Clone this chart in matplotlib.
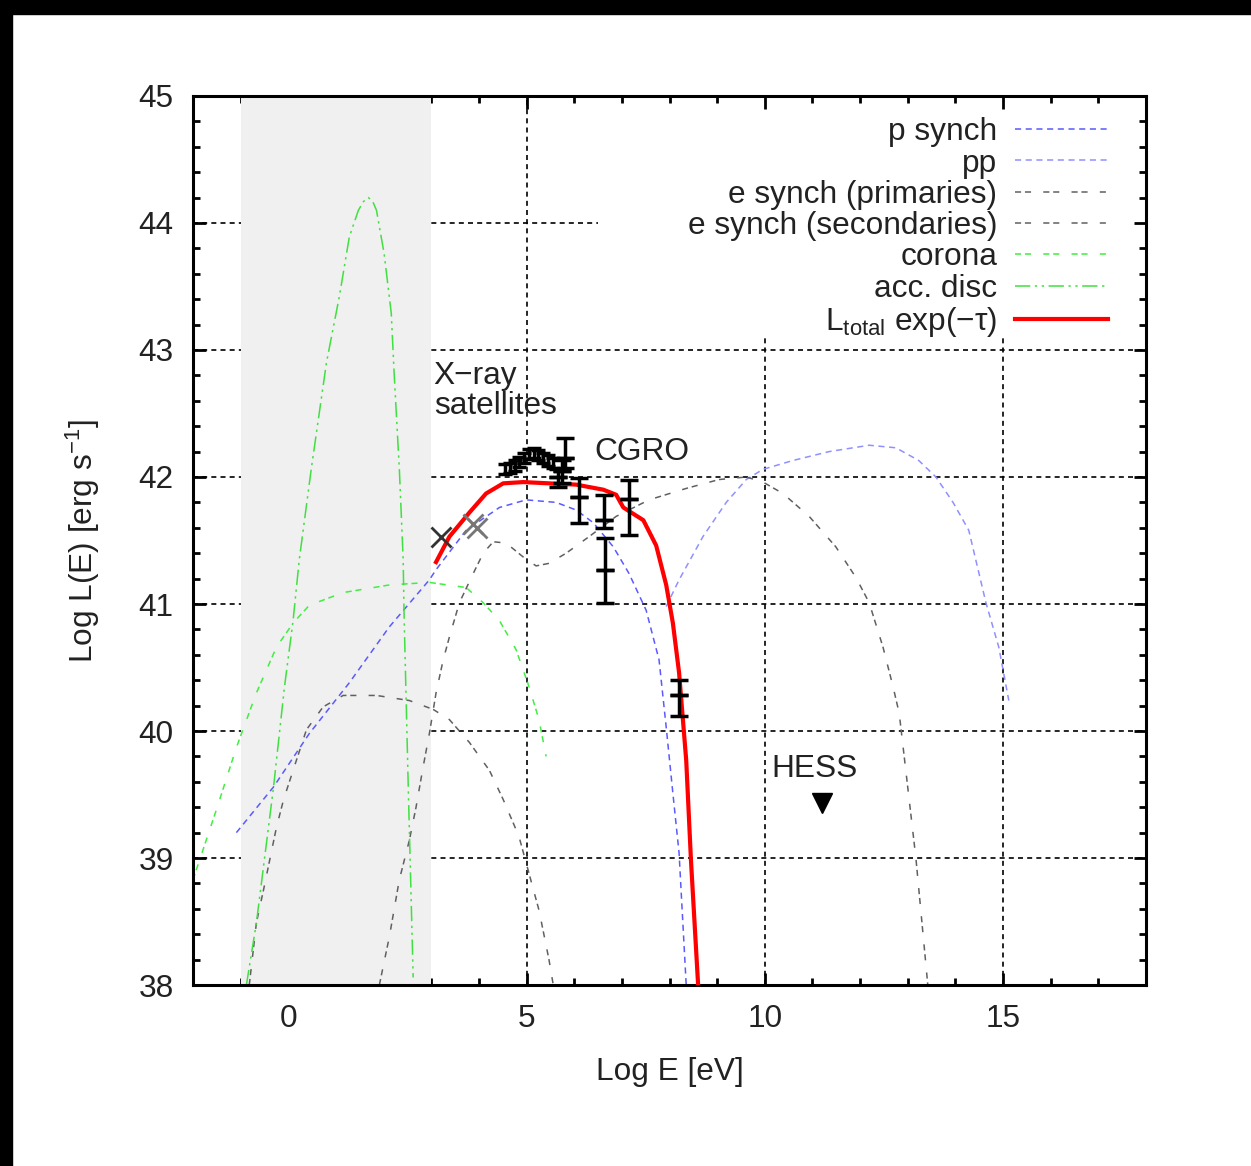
import numpy as np
import matplotlib.pyplot as plt
from matplotlib.patches import Rectangle

plt.rcParams['font.family'] = ['Liberation Sans', 'DejaVu Sans']
plt.rcParams['mathtext.default'] = 'regular'
plt.rcParams['font.size'] = 22.8

# curves (Log E [eV], Log L [erg/s])
psynch_x = [-1.09, -0.31, 0.44, 1.28, 2.12, 2.96, 3.10, 3.73, 4.43, 4.99, 5.62, 6.04, 6.40, 6.82, 7.15, 7.51, 7.78, 7.93, 8.07, 8.20, 8.35]
psynch_y = [39.20, 39.56, 39.98, 40.38, 40.82, 41.19, 41.27, 41.58, 41.76, 41.82, 41.80, 41.74, 41.64, 41.45, 41.24, 40.95, 40.56, 40.03, 39.51, 39.04, 38.0]

pp_x = [7.93, 8.20, 8.70, 9.19, 9.61, 9.96, 10.59, 11.35, 12.19, 12.75, 13.23, 13.59, 13.95, 14.28, 14.64, 14.91, 15.12]
pp_y = [40.98, 41.19, 41.53, 41.80, 41.98, 42.06, 42.13, 42.20, 42.25, 42.23, 42.13, 42.00, 41.80, 41.58, 41.01, 40.66, 40.24]

eprim_x = [-0.82, -0.67, -0.52, -0.25, -0.10, 0.10, 0.38, 0.73, 1.15, 1.85, 2.54, 3.04, 3.38, 3.80, 4.22, 4.51, 4.84, 5.05, 5.26, 5.47, 5.56]
eprim_y = [38.0, 38.49, 38.75, 39.24, 39.46, 39.69, 40.01, 40.19, 40.28, 40.28, 40.24, 40.17, 40.09, 39.91, 39.69, 39.46, 39.17, 38.88, 38.59, 38.20, 38.0]

esec_x = [1.91, 2.12, 2.33, 2.54, 2.68, 2.83, 2.96, 3.10, 3.25, 3.38, 3.59, 3.88, 4.09, 4.30, 4.57, 4.93, 5.20, 5.47, 5.83, 6.31, 6.88, 7.57, 8.35, 9.04, 9.61, 9.96, 10.38, 10.93, 11.49, 11.91, 12.19, 12.48, 12.69, 12.82, 13.17, 13.42]
esec_y = [38.0, 38.38, 38.83, 39.14, 39.40, 39.72, 39.98, 40.30, 40.56, 40.74, 41.01, 41.24, 41.40, 41.49, 41.48, 41.37, 41.30, 41.32, 41.40, 41.53, 41.69, 41.82, 41.91, 41.98, 42.00, 41.96, 41.87, 41.69, 41.45, 41.21, 41.01, 40.66, 40.35, 40.14, 39.0, 38.0]

corona_x = [-2.0, -1.51, -1.09, -0.67, -0.25, 0.10, 0.44, 1.15, 2.12, 2.96, 3.73, 4.09, 4.43, 4.78, 5.05, 5.26, 5.41]
corona_y = [38.83, 39.38, 39.87, 40.30, 40.66, 40.85, 40.99, 41.09, 41.15, 41.17, 41.13, 41.01, 40.87, 40.64, 40.35, 40.09, 39.80]

disc_x = [-0.88, -0.67, -0.31, -0.08, 0.10, 0.23, 0.48, 0.80, 1.07, 1.28, 1.47, 1.58, 1.68, 1.77, 1.85, 2.01, 2.16, 2.22, 2.33, 2.41, 2.43, 2.52, 2.62]
disc_y = [38.0, 38.49, 39.56, 40.35, 40.87, 41.35, 42.06, 42.90, 43.42, 43.89, 44.10, 44.17, 44.20, 44.17, 44.10, 43.76, 43.29, 42.82, 42.06, 41.35, 40.90, 39.51, 38.06]

total_x = [3.10, 3.38, 3.80, 4.15, 4.51, 4.93, 5.47, 6.04, 6.61, 6.88, 7.03, 7.45, 7.72, 7.93, 8.07, 8.20, 8.35, 8.45, 8.60]
total_y = [41.33, 41.53, 41.72, 41.87, 41.95, 41.96, 41.95, 41.94, 41.90, 41.86, 41.76, 41.66, 41.46, 41.15, 40.85, 40.46, 39.77, 38.98, 38.0]

# data points
xray_x = [3.21, 3.88, 3.95]
xray_y = [41.53, 41.63, 41.60]

cgro_lo_x = [4.55, 4.65, 4.75, 4.85, 4.95, 5.05, 5.15, 5.25, 5.35, 5.45, 5.55]
cgro_lo_y = [42.06, 42.07, 42.09, 42.12, 42.15, 42.18, 42.19, 42.17, 42.15, 42.13, 42.11]
cgro_lo_err = 0.04

cgro_x = [5.65, 5.75, 5.80, 6.10, 6.63, 6.65, 7.15, 8.20]
cgro_y = [42.00, 42.05, 42.15, 41.84, 41.66, 41.27, 41.83, 40.28]
cgro_dn = [0.08, 0.10, 0.08, 0.20, 0.06, 0.26, 0.29, 0.16]
cgro_up = [0.06, 0.08, 0.16, 0.15, 0.20, 0.25, 0.15, 0.12]

hess_x = [11.2]
hess_y = [39.43]

fig = plt.figure(figsize=(12.51, 11.66), dpi=100)
ax = fig.add_axes([0.1543, 0.1552, 0.7618, 0.7625])

# black frame on top and left of the original picture
fig.patches.append(Rectangle((0, 1 - 14/1166), 1, 14/1166, transform=fig.transFigure, color='black', zorder=0))
fig.patches.append(Rectangle((0, 0), 12/1251, 1, transform=fig.transFigure, color='black', zorder=0))

ax.set_xlim(-2, 18)
ax.set_ylim(38, 45)

# grid by hand so the band / key box can sit above it but below the ticks
for gx in [5, 10, 15]:
    ax.axvline(gx, color='black', lw=1.2, ls=(0, (3, 2.5)), zorder=0.6)
for gy in [39, 40, 41, 42, 43, 44]:
    ax.axhline(gy, color='black', lw=1.2, ls=(0, (3, 2.5)), zorder=0.6)

ax.axvspan(-1, 3, color='#f0f0f0', zorder=1.5, lw=0)
# opaque key area
ax.add_patch(Rectangle((6.5, 43.12), 11.5, 1.88, color='white', zorder=0.8, lw=0))

ax.xaxis.set_zorder(1.2)
ax.yaxis.set_zorder(1.2)

ax.plot(psynch_x, psynch_y, color='#5a5aff', lw=1.1, ls=(0, (4, 3)), label='p synch', zorder=2)
ax.plot(pp_x, pp_y, color='#9090ff', lw=1.1, ls=(0, (4, 3)), label='pp', zorder=2)
ax.plot(eprim_x, eprim_y, color='#606060', lw=1.1, ls=(0, (4, 2.5, 4, 8)), label='e synch (primaries)', zorder=2)
ax.plot(esec_x, esec_y, color='#606060', lw=1.1, ls=(0, (4, 2.5, 4, 8)), label='e synch (secondaries)', zorder=2)
ax.plot(corona_x, corona_y, color='#40ee40', lw=1.1, ls=(0, (4, 2.5, 4, 8)), label='corona', zorder=2)
ax.plot(disc_x, disc_y, color='#40e040', lw=1.1, ls=(0, (10, 3, 1.5, 3, 1.5, 3)), label='acc. disc', zorder=2)
ax.plot(total_x, total_y, color='#ff0000', lw=3, label='L$_{total}$ exp(\u2212\u03c4)', zorder=3)

ax.plot(xray_x[:1], xray_y[:1], 'x', color='#333333', ms=14, mew=2, zorder=3)
ax.plot(xray_x[1:], xray_y[1:], 'x', color='#777777', ms=14, mew=2, zorder=3)

ax.errorbar(cgro_lo_x, cgro_lo_y, yerr=cgro_lo_err, fmt='none', ecolor='black',
            elinewidth=2.5, capsize=5, capthick=2.5, zorder=4)
ax.errorbar(cgro_x, cgro_y, yerr=[cgro_dn, cgro_up], fmt='none', ecolor='black',
            elinewidth=2.5, capsize=6.5, capthick=2.5, zorder=4)
ax.errorbar(cgro_x, cgro_y, yerr=0, fmt='none', ecolor='black',
            elinewidth=2.5, capsize=6.5, capthick=2.5, zorder=4)

ax.plot(hess_x, hess_y, 'v', color='black', ms=14, zorder=4)

ax.text(3.05, 42.68, 'X\u2212ray\nsatellites', ha='left', va='center', linespacing=1.0, color='#222222')
ax.text(6.42, 42.2, 'CGRO', ha='left', va='center', color='#222222')
ax.text(10.13, 39.7, 'HESS', ha='left', va='center', color='#222222')

ax.set_xticks([0, 5, 10, 15])
ax.set_yticks([38, 39, 40, 41, 42, 43, 44, 45])
ax.set_xticks(np.arange(-2, 19, 1), minor=True)
ax.set_yticks(np.arange(38, 45.01, 0.2), minor=True)
ax.tick_params(which='both', direction='in', top=True, right=True, colors='black', labelcolor='#222222')
ax.tick_params(which='major', length=9, width=2, pad=14)
ax.tick_params(which='minor', length=5, width=2)
for s in ax.spines.values():
    s.set_linewidth(2.2)

ax.set_xlabel('Log E [eV]', labelpad=16, color='#222222')
ax.set_ylabel('Log L(E) [erg s$^{\u22121}$]', labelpad=26, color='#222222')

leg = ax.legend(loc='upper right', bbox_to_anchor=(0.960, 0.976), frameon=False,
                markerfirst=False, handlelength=2.95, handletextpad=0.55,
                labelspacing=0.04, borderpad=0, borderaxespad=0)
for t in leg.get_texts():
    t.set_color('#222222')

fig.savefig('out.png', dpi=100)
